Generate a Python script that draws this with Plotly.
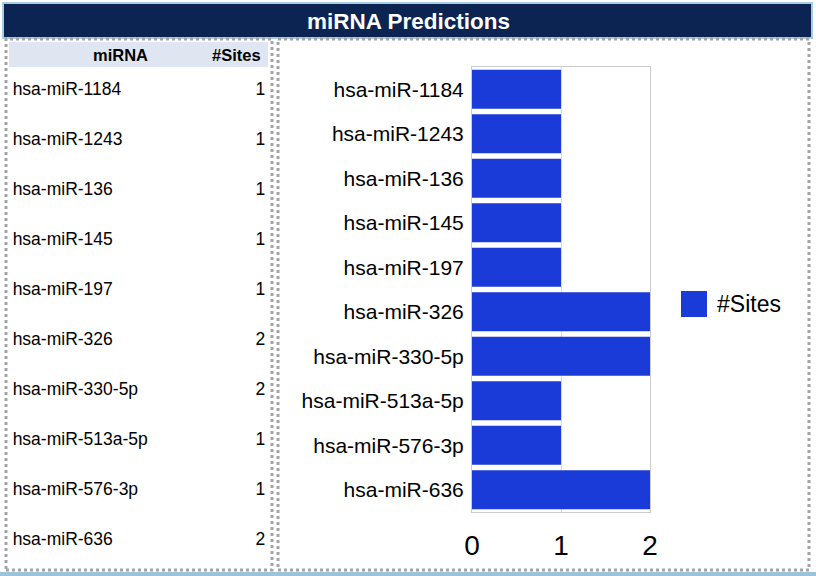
import plotly.graph_objects as go

# data
mirnas = ['hsa-miR-1184', 'hsa-miR-1243', 'hsa-miR-136', 'hsa-miR-145', 'hsa-miR-197',
          'hsa-miR-326', 'hsa-miR-330-5p', 'hsa-miR-513a-5p', 'hsa-miR-576-3p', 'hsa-miR-636']
sites = [1, 1, 1, 1, 1, 2, 2, 1, 1, 2]
series_name = '#Sites'
table_header = ['miRNA', '#Sites']
title_text = 'miRNA Predictions'
x_ticks = [0, 1, 2]

W, H = 816, 576
BAR = '#1a3bd8'
NAVY = '#0b2452'
FONT = 'Liberation Sans, Arial, sans-serif'


def px(x):
    return x / W


def py(y):
    return 1 - y / H


fig = go.Figure()

# bar chart
fig.add_trace(go.Bar(
    x=sites, y=mirnas, orientation='h', name=series_name,
    marker=dict(color=BAR, line=dict(width=0)),
    showlegend=False, xaxis='x', yaxis='y',
))

# table on its own axes: one row per miRNA
rows = list(range(len(mirnas)))
fig.add_trace(go.Scatter(
    x=[0.025] * len(mirnas), y=rows, text=mirnas, mode='text',
    textposition='middle right', textfont=dict(size=17.5, color='black', family=FONT),
    showlegend=False, xaxis='x2', yaxis='y2', hoverinfo='skip', cliponaxis=False,
))
fig.add_trace(go.Scatter(
    x=[0.975] * len(mirnas), y=rows, text=[str(s) for s in sites], mode='text',
    textposition='middle left', textfont=dict(size=17.5, color='black', family=FONT),
    showlegend=False, xaxis='x2', yaxis='y2', hoverinfo='skip', cliponaxis=False,
))

shapes = [
    # title bar
    dict(type='rect', xref='paper', yref='paper', x0=px(3), x1=px(812), y0=py(38), y1=py(3),
         fillcolor=NAVY, line=dict(color='#a9cbe4', width=2), layer='below'),
    # left panel
    dict(type='rect', xref='paper', yref='paper', x0=px(6), x1=px(272), y0=py(570), y1=py(39),
         fillcolor='white', line=dict(color='#a4a4a4', width=3, dash='dot'), layer='below'),
    # right panel
    dict(type='rect', xref='paper', yref='paper', x0=px(278), x1=px(809), y0=py(570), y1=py(39),
         fillcolor='white', line=dict(color='#a4a4a4', width=3, dash='dot'), layer='below'),
    # table header background
    dict(type='rect', xref='paper', yref='paper', x0=px(9), x1=px(268), y0=py(67), y1=py(42),
         fillcolor='#e0e6f1', line=dict(width=0), layer='below'),
    # bottom strip
    dict(type='rect', xref='paper', yref='paper', x0=0, x1=1, y0=0, y1=py(572),
         fillcolor='#9cc3dc', line=dict(width=0), layer='below'),
    # legend key
    dict(type='rect', xref='paper', yref='paper', x0=px(681), x1=px(707), y0=py(317), y1=py(291),
         fillcolor=BAR, line=dict(width=0)),
]

annotations = [
    dict(text='<b>' + title_text + '</b>', xref='paper', yref='paper', x=0.5, y=py(21),
         yanchor='middle', showarrow=False, font=dict(size=22.5, color='white', family=FONT)),
    dict(text='<b>' + table_header[0] + '</b>', xref='paper', yref='paper', x=px(91), y=py(55),
         yanchor='middle', showarrow=False, font=dict(size=16.5, color='black', family=FONT)),
    dict(text='<b>' + table_header[1] + '</b>', xref='paper', yref='paper', x=px(263), y=py(55),
         xanchor='right', yanchor='middle', showarrow=False,
         font=dict(size=16.5, color='black', family=FONT)),
    dict(text=series_name, xref='paper', yref='paper', x=px(715), y=py(304), xanchor='left',
         yanchor='middle', showarrow=False, font=dict(size=23, color='black', family=FONT)),
]

fig.update_layout(
    width=W, height=H,
    margin=dict(l=0, r=0, t=0, b=0, pad=0),
    paper_bgcolor='white', plot_bgcolor='white',
    font=dict(family=FONT, color='black'),
    bargap=0.12,
    showlegend=False,
    shapes=shapes,
    annotations=annotations,
    xaxis=dict(
        domain=[px(472), px(650)], range=[0, 2], tickvals=x_ticks,
        showgrid=True, gridcolor='#d9d9d9', zeroline=False,
        showline=True, mirror=True, linecolor='#cccccc', linewidth=1,
        tickfont=dict(size=28), ticks='', ticklabelstandoff=8, fixedrange=True,
        automargin=False,
    ),
    yaxis=dict(
        domain=[py(512), py(67)], type='category', autorange='reversed',
        showgrid=False, zeroline=False,
        showline=True, mirror=True, linecolor='#cccccc', linewidth=1,
        tickfont=dict(size=21), ticks='', ticklabelstandoff=3, fixedrange=True,
        automargin=False,
    ),
    xaxis2=dict(domain=[px(6), px(272)], range=[0, 1], visible=False, fixedrange=True,
                automargin=False),
    yaxis2=dict(domain=[py(566), py(66)], range=[9.5, -0.5], visible=False, fixedrange=True,
                automargin=False),
)

# drop the browser's default page margin so the figure sits at 0,0
fig.write_html('out.html', config={'displayModeBar': False},
               post_script="document.body.style.margin='0';")
